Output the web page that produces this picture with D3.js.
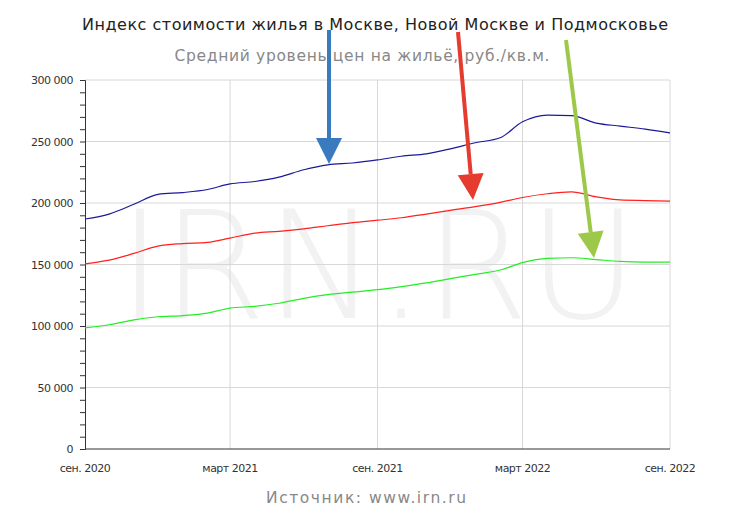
<!DOCTYPE html>
<html><head><meta charset="utf-8">
<script src="https://cdn.jsdelivr.net/npm/d3@7"></script>
<style>body{margin:0;background:#fff}</style></head>
<body><svg id="c" width="732" height="509"></svg>
<script>
const months = d3.range(25).map(i => new Date(2020, 8 + i, 1));
const xTickLabels = ["сен. 2020","март 2021","сен. 2021","март 2022","сен. 2022"];
const moscow = [187,191,199,207,208.5,211,215.5,217.5,221,227,231,232.5,235,238,240,244,249,253,266,271.5,271,265,262.5,260,257];
const newMoscow = [150.5,153.5,159,165,167,168,171.5,175.5,177,179,181.5,184,186,188,191,194,197,200.5,204.5,207.5,209,205,202.5,202,201.5];
const oblast = [98.5,101,105,107.5,108.5,110.5,114.5,116,118.5,122.5,125.5,127.5,129.5,132,135,138.5,142,145.5,151.5,155,155.5,154,152.5,152,152];
const yTicks = [0,50000,100000,150000,200000,250000,300000];

const svg = d3.select("#c");
const x = d3.scaleTime().domain([months[0], months[24]]).range([85, 670]);
const y = d3.scaleLinear().domain([0, 300000]).range([449, 80]);
const fmt = v => d3.format(",")(v).replace(/,/g, " ");

svg.append("text").attr("x",375).attr("y",30).attr("text-anchor","middle")
  .attr("font-family","DejaVu Sans, sans-serif").attr("font-size",16).attr("fill","#222")
  .attr("textLength",586).text("Индекс стоимости жилья в Москве, Новой Москве и Подмосковье");
svg.append("text").attr("x",362).attr("y",61).attr("text-anchor","middle")
  .attr("font-family","DejaVu Sans, sans-serif").attr("font-size",15.5).attr("fill","#888")
  .attr("textLength",375).text("Средний уровень цен на жильё, руб./кв.м.");

svg.append("text").attr("x",378).attr("y",318).attr("text-anchor","middle")
  .attr("font-family","DejaVu Sans, sans-serif").attr("font-size",150).attr("font-weight",200)
  .attr("fill","#f2f2f2").attr("textLength",520).text("IRN.RU");

const xT = [0,6,12,18,24].map(i => months[i]);
svg.append("g").selectAll("line").data(yTicks.slice(1)).join("line")
  .attr("x1",85).attr("x2",670).attr("y1",d=>y(d)).attr("y2",d=>y(d)).attr("stroke","#d8d8d8");
svg.append("g").selectAll("line").data(xT.slice(1)).join("line")
  .attr("x1",d=>x(d)).attr("x2",d=>x(d)).attr("y1",80).attr("y2",449).attr("stroke","#d8d8d8");

const ya = svg.append("g").attr("transform","translate(85,0)")
  .call(d3.axisLeft(y).tickValues(d3.range(0,300001,10000)).tickSize(5).tickFormat(""));
ya.select(".domain").attr("stroke","#333");
ya.selectAll(".tick line").attr("stroke","#333");
svg.append("g").selectAll("text").data(yTicks).join("text")
  .attr("x",73).attr("y",d=>y(d)+4).attr("text-anchor","end")
  .attr("font-family","DejaVu Sans, sans-serif").attr("font-size",11).attr("fill","#333")
  .attr("letter-spacing",-0.5).text(fmt);
svg.append("line").attr("x1",85).attr("x2",670).attr("y1",449).attr("y2",449).attr("stroke","#333");
svg.append("g").selectAll("text").data(xT).join("text")
  .attr("x",d=>x(d)).attr("y",472).attr("text-anchor","middle")
  .attr("font-family","DejaVu Sans, sans-serif").attr("font-size",11).attr("fill","#333")
  .attr("letter-spacing",-0.5).text((d,i)=>xTickLabels[i]);

const line = d3.line().x((d,i)=>x(months[i])).y(d=>y(d*1000)).curve(d3.curveMonotoneX);
[[moscow,"#1a1a99"],[newMoscow,"#ff2020"],[oblast,"#22ee22"]].forEach(([d,c])=>
  svg.append("path").attr("d",line(d)).attr("fill","none").attr("stroke",c).attr("stroke-width",1.2));

function arrow(x1,y1,x2,y2,col){
  const a = Math.atan2(y2-y1,x2-x1), L=26, W=13;
  const bx = x2 - L*Math.cos(a), by = y2 - L*Math.sin(a);
  svg.append("line").attr("x1",x1).attr("y1",y1).attr("x2",bx).attr("y2",by).attr("stroke",col).attr("stroke-width",4);
  const px=-Math.sin(a)*W, py=Math.cos(a)*W;
  svg.append("path").attr("d",`M${x2},${y2}L${bx+px},${by+py}L${bx-px},${by-py}Z`).attr("fill",col);
}
arrow(329,30,329,164,"#3a7abf");
arrow(458,32,473,200,"#e63c30");
arrow(566,40,594,258,"#9dc84a");

svg.append("text").attr("x",366).attr("y",503).attr("text-anchor","middle")
  .attr("font-family","DejaVu Sans, sans-serif").attr("font-size",15.5).attr("fill","#888")
  .attr("textLength",200).text("Источник: www.irn.ru");
</script></body></html>
